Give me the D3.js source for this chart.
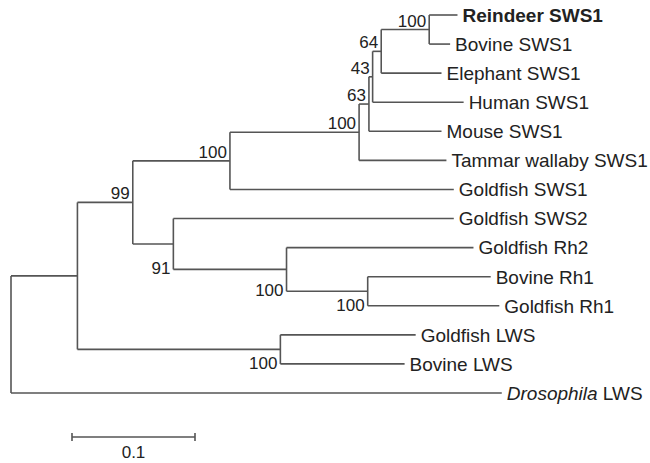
<!DOCTYPE html>
<html>
<head>
<meta charset="utf-8">
<script src="https://cdn.jsdelivr.net/npm/d3@7"></script>
<style>
  body { margin: 0; background: #fff; }
  text { font-family: "Liberation Sans", Arial, sans-serif; fill: #222; }
</style>
</head>
<body>
<div id="chart"></div>
<script>
// tree: node, parent, branch length (subst./site), bootstrap
const nodeNames = ["root", "nA", "Drosophila LWS", "n99", "nLWS", "n100s", "n91",
    "nMam", "Goldfish SWS1", "n63", "Tammar wallaby SWS1", "n43", "Mouse SWS1",
    "n64", "Human SWS1", "n100rb", "Elephant SWS1", "Reindeer SWS1", "Bovine SWS1",
    "Goldfish SWS2", "nRh", "Goldfish Rh2", "nRh1", "Bovine Rh1", "Goldfish Rh1",
    "Goldfish LWS", "Bovine LWS"]
const nodeParents = ["", "root", "root", "nA", "nA", "n99", "n99",
    "n100s", "n100s", "nMam", "nMam", "n63", "n63",
    "n43", "n43", "n64", "n64", "n100rb", "n100rb",
    "n91", "n91", "nRh", "nRh", "nRh1", "nRh1",
    "nLWS", "nLWS"]
const branchLengths = [0, 0.054, 0.399, 0.045, 0.165, 0.079, 0.033,
    0.105, 0.182, 0.008, 0.071, 0.003, 0.059,
    0.007, 0.074, 0.039, 0.049, 0.023, 0.017,
    0.228, 0.092, 0.152, 0.066, 0.100, 0.107,
    0.110, 0.101]
const bootstrap = [null, null, null, 99, 100, 100, 91,
    100, null, 63, null, 43, null,
    64, null, 100, null, null, null,
    null, 100, null, 100, null, null,
    null, null]
const boldLeaves = ["Reindeer SWS1"]
const italicGenus = ["Drosophila"]
const scaleBarValue = 0.1

const width = 650, height = 463

const svg = d3.select("#chart")
    .append("svg")
    .attr("width", width)
    .attr("height", height)

const table = nodeNames.map(function(n, i) {
    return {id: n, parent: nodeParents[i] || null, len: branchLengths[i], boot: bootstrap[i]}
})
const root = d3.stratify()
    .id(function(d) { return d.id })
    .parentId(function(d) { return d.parent })(table)

// cumulative distance from root
root.each(function(d) { d.dist = d.parent ? d.parent.dist + d.data.len : 0 })

var leaves = root.leaves()
var x = d3.scaleLinear().domain([0, 0.1]).range([11, 134])
var y = d3.scaleLinear().domain([0, leaves.length - 1]).range([15, 393])

leaves.forEach(function(d, i) { d.yy = y(i) })
root.eachAfter(function(d) {
    if (d.children) d.yy = (d.children[0].yy + d.children[d.children.length - 1].yy) / 2
})

const lineColor = "#555"
var g = svg.append("g")
    .attr("fill", "none")
    .attr("stroke", lineColor)
    .attr("stroke-width", 1.6)

// horizontal branches
g.selectAll(".hbranch")
    .data(root.descendants().filter(function(d) { return d.parent }))
    .enter().append("line")
    .attr("x1", function(d) { return x(d.parent.dist) })
    .attr("x2", function(d) { return x(d.dist) })
    .attr("y1", function(d) { return d.yy })
    .attr("y2", function(d) { return d.yy })

// vertical connectors
g.selectAll(".vbranch")
    .data(root.descendants().filter(function(d) { return d.children }))
    .enter().append("line")
    .attr("x1", function(d) { return x(d.dist) })
    .attr("x2", function(d) { return x(d.dist) })
    .attr("y1", function(d) { return d.children[0].yy })
    .attr("y2", function(d) { return d.children[d.children.length - 1].yy })

// leaf labels
var lab = svg.selectAll(".leaf")
    .data(leaves)
    .enter().append("text")
    .attr("x", function(d) { return x(d.dist) + 5 })
    .attr("y", function(d) { return d.yy })
    .attr("dy", "0.36em")
    .style("font-size", "19px")
    .style("font-weight", function(d) { return boldLeaves.includes(d.id) ? "bold" : "normal" })

lab.each(function(d) {
    var t = d3.select(this)
    var first = d.id.split(" ")[0]
    if (italicGenus.includes(first)) {
        t.append("tspan").style("font-style", "italic").text(first)
        t.append("tspan").text(d.id.slice(first.length))
    } else {
        t.text(d.id)
    }
})

// bootstrap values: upper child above its stem, lower child beside bottom of its bracket
svg.selectAll(".boot")
    .data(root.descendants().filter(function(d) { return d.data.boot != null }))
    .enter().append("text")
    .attr("text-anchor", "end")
    .style("font-size", "17px")
    .attr("x", function(d) { return x(d.dist) - 3 })
    .attr("y", function(d) {
        var upper = d.parent.children[0] === d
        return upper ? d.yy - 3 : d.children[d.children.length - 1].yy + 5
    })
    .text(function(d) { return d.data.boot })

// scale bar
var sb = svg.append("g").attr("transform", "translate(72,437)")
var sbLen = x(scaleBarValue) - x(0)
sb.append("path")
    .attr("d", "M0,-4V4M0,0H" + sbLen + "M" + sbLen + ",-4V4")
    .attr("fill", "none")
    .attr("stroke", lineColor)
    .attr("stroke-width", 1.6)
sb.append("text")
    .attr("x", sbLen / 2)
    .attr("y", 21)
    .attr("text-anchor", "middle")
    .style("font-size", "17px")
    .text(scaleBarValue)
</script>
</body>
</html>
